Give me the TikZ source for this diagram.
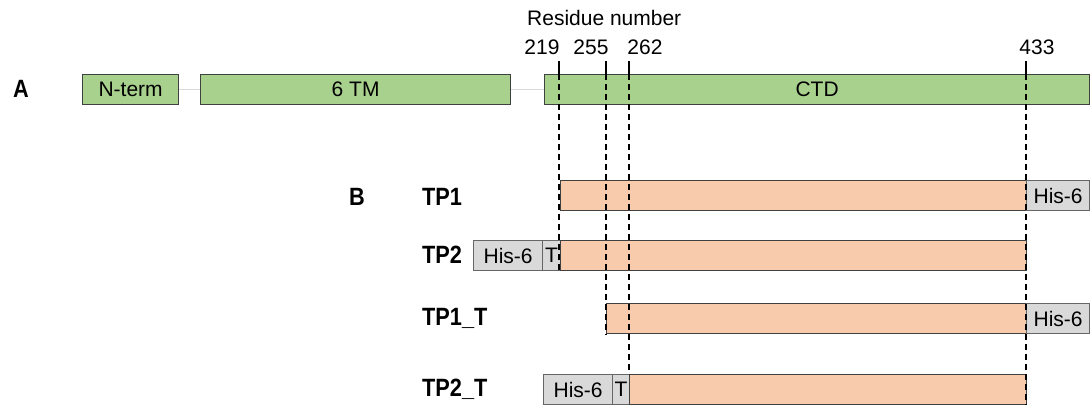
\documentclass[tikz,border=0pt]{standalone}
\usepackage{fontspec}
\setmainfont{Liberation Sans}
\definecolor{boxgreen}{HTML}{A9D18E}
\definecolor{boxorange}{HTML}{F8CBAD}
\definecolor{boxgray}{HTML}{D9D9D9}
\definecolor{edgedark}{HTML}{404040}
\definecolor{edgegray}{HTML}{666666}
\definecolor{linkgray}{HTML}{D9D9D9}
\tikzset{
  txt/.style={font=\fontsize{21}{25}\selectfont, inner sep=0pt},
  lbl/.style={font=\fontsize{25}{30}\selectfont\bfseries, inner sep=0pt, xscale=0.87},
  seg/.style={draw=edgedark, line width=1.3pt, inner sep=0pt, anchor=north west,
    font=\fontsize{21}{25}\selectfont},
  dom/.style={seg, fill=boxgreen},
  core/.style={seg, fill=boxorange},
  tag/.style={seg, fill=boxgray, draw=edgegray},
  tick/.style={line width=1.4pt, black},
  guide/.style={line width=1.4pt, black, dash pattern=on 6pt off 4pt},
  link/.style={line width=1.2pt, linkgray}
}
\newcommand{\segbox}[7]{% style, name, x1, y1, x2, y2, text
  \node[#1, minimum width={#5pt-#3pt}, minimum height={#6pt-#4pt}] (#2) at (#3,#4) {#7};}
\begin{document}
\begin{tikzpicture}[x=1pt,y=-1pt]
\useasboundingbox (0,0) rectangle (1090,405);
% Row A
\node[lbl] (labA) at (21,89) {A};
\segbox{dom}{nterm}{82}{74}{178}{104}{N-term}
\segbox{dom}{tm}{200}{74}{510}{104}{6 TM}
\segbox{dom}{ctd}{544}{74}{1089}{104}{CTD}
\draw[link] (nterm.east) -- (tm.west);
\draw[link] (tm.east) -- (ctd.west);
% header
\node[txt, anchor=west] (resnum) at (527,18) {Residue number};
\node[txt] (n219) at (542,47) {219};
\node[txt] (n255) at (591,47) {255};
\node[txt] (n262) at (645,47) {262};
\node[txt] (n433) at (1037,47) {433};
\coordinate (t219) at (559,61);
\coordinate (t255) at (606,61);
\coordinate (t262) at (629,61);
\coordinate (t433) at (1026,61);
% Row B
\node[lbl] (labB) at (357,197) {B};
\node[lbl, anchor=west] (ltp1) at (422,197) {TP1};
\node[lbl, anchor=west] (ltp2) at (422,255) {TP2};
\node[lbl, anchor=west] (ltp1t) at (422,318) {TP1\_T};
\node[lbl, anchor=west] (ltp2t) at (422,389) {TP2\_T};
% TP1
\segbox{core}{tp1}{560}{180}{1026}{210}{}
\segbox{tag}{tp1h}{1026}{180}{1089}{210}{His-6}
% TP2
\segbox{tag}{tp2h}{473}{240}{542}{270}{His-6}
\segbox{tag}{tp2t}{542}{240}{560}{270}{T}
\segbox{core}{tp2}{560}{240}{1026}{270}{}
% TP1_T
\segbox{core}{tp1t}{606}{303}{1026}{333}{}
\segbox{tag}{tp1th}{1026}{303}{1089}{333}{His-6}
% TP2_T
\segbox{tag}{tp2th}{543}{374}{612}{404}{His-6}
\segbox{tag}{tp2tt}{612}{374}{629}{404}{T}
\segbox{core}{tp2t}{629}{374}{1026}{404}{}
% ticks and guides
\draw[tick] (t219) -- (t219 |- ctd.north);
\draw[tick] (t255) -- (t255 |- ctd.north);
\draw[tick] (t262) -- (t262 |- ctd.north);
\draw[tick] (t433) -- (t433 |- ctd.north);
\draw[guide] (t219 |- ctd.north) -- (t219 |- tp2.south);
\draw[guide] (t255 |- ctd.north) -- (t255 |- tp1t.south);
\draw[guide] (t262 |- ctd.north) -- (t262 |- tp2t.north);
\draw[guide] (t433 |- ctd.north) -- (t433 |- tp2t.south);
\end{tikzpicture}
\end{document}
